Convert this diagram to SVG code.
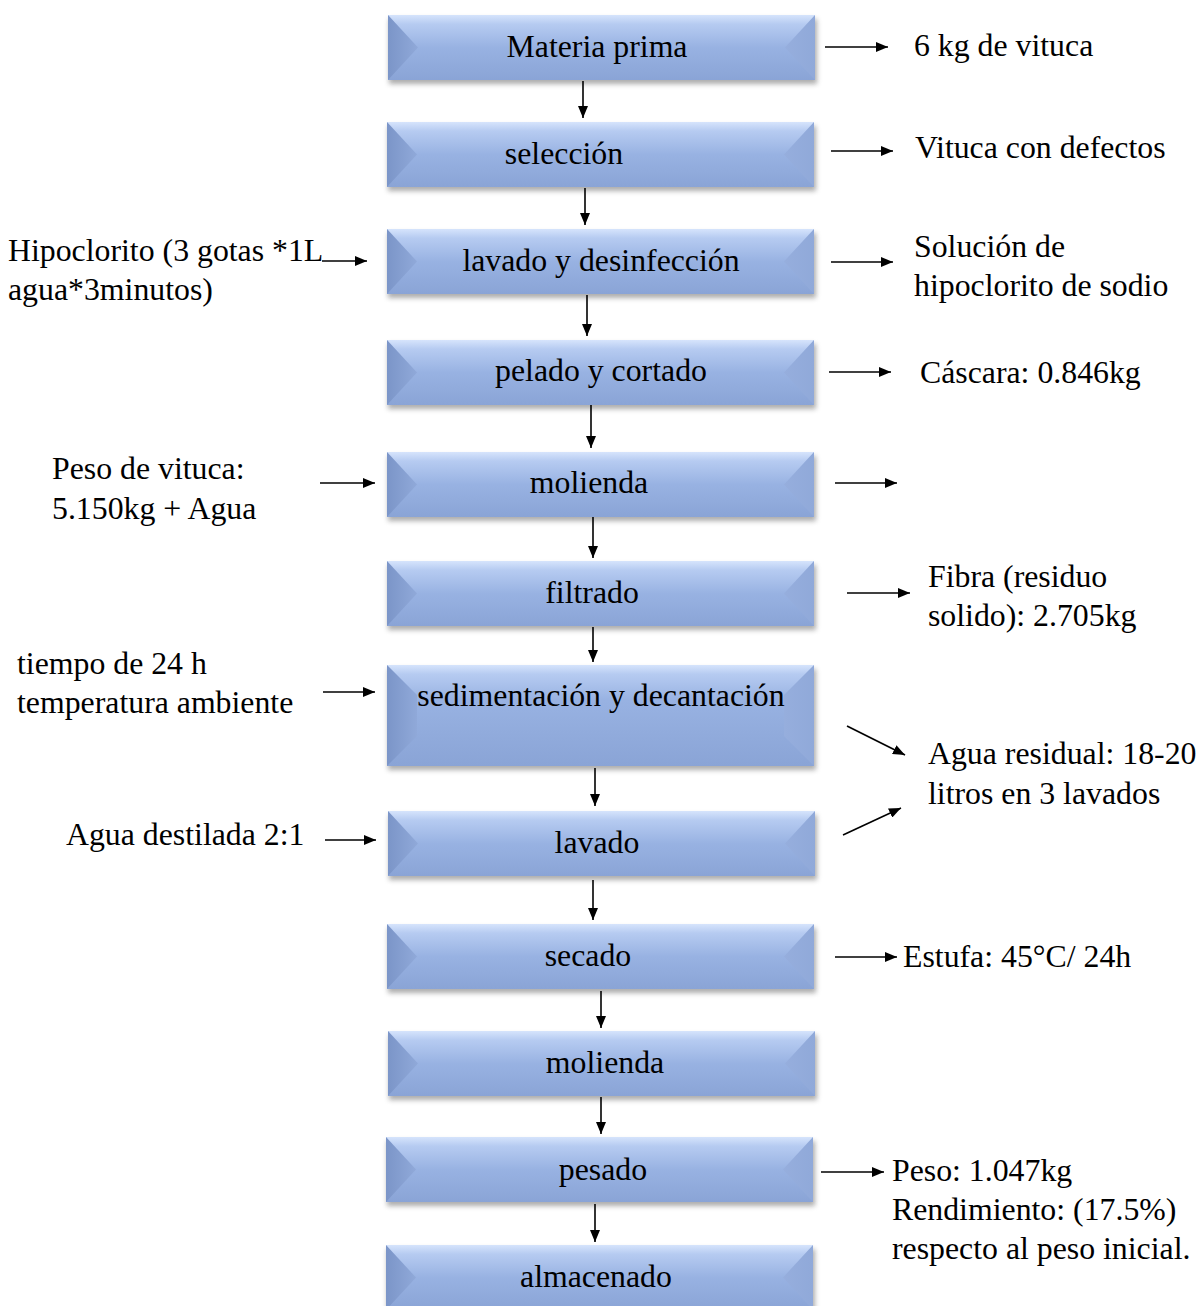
<svg xmlns="http://www.w3.org/2000/svg" xmlns:xlink="http://www.w3.org/1999/xlink" width="1201" height="1306" viewBox="0 0 1201 1306">
<style>
text{font-family:"Liberation Serif","Times New Roman",serif;font-size:31.8px;fill:#000}
.c{text-anchor:middle}
.ln{stroke:#000;stroke-width:1.6;fill:none}
</style>
<defs>
<linearGradient id="face" x1="0" y1="0" x2="0" y2="1">
<stop offset="0" stop-color="#d6e4fc"/><stop offset="0.14" stop-color="#b6cbf1"/><stop offset="0.5" stop-color="#98b2e2"/><stop offset="1" stop-color="#8aa4d6"/>
</linearGradient>
<linearGradient id="faceT" x1="0" y1="0" x2="0" y2="1">
<stop offset="0" stop-color="#d6e4fc"/><stop offset="0.09" stop-color="#b6cbf1"/><stop offset="0.35" stop-color="#98b2e2"/><stop offset="1" stop-color="#8aa4d6"/>
</linearGradient>
<linearGradient id="leftg" x1="0" y1="0" x2="1" y2="0">
<stop offset="0" stop-color="#7b95c8"/><stop offset="1" stop-color="#90a9d9"/>
</linearGradient>
<linearGradient id="rightg" x1="0" y1="0" x2="1" y2="0">
<stop offset="0" stop-color="#96aedd"/><stop offset="1" stop-color="#90a9d9"/>
</linearGradient>
<filter id="sh" x="-5%" y="-20%" width="110%" height="150%">
<feGaussianBlur stdDeviation="2.5"/>
</filter>
<g id="box">
<rect x="1" y="4" width="428" height="65" fill="#6b6b6b" opacity="0.55" filter="url(#sh)"/>
<rect x="0" y="0" width="427" height="65" fill="url(#face)"/>
<polygon points="0,0 30,32.5 0,65" fill="url(#leftg)"/>
<polygon points="427,0 397,32.5 427,65" fill="url(#rightg)"/>
</g>
<g id="boxT">
<rect x="1" y="4" width="428" height="101" fill="#6b6b6b" opacity="0.55" filter="url(#sh)"/>
<rect x="0" y="0" width="427" height="101" fill="url(#faceT)"/>
<polygon points="0,0 30,30 30,71 0,101" fill="url(#leftg)"/>
<polygon points="427,0 397,30 397,71 427,101" fill="url(#rightg)"/>
</g>
<marker id="ah" viewBox="0 0 12 10" refX="12" refY="5" markerWidth="12" markerHeight="10" markerUnits="userSpaceOnUse" orient="auto">
<path d="M0,0 L12,5 L0,10 Z" fill="#000"/>
</marker>
</defs>
<rect width="1201" height="1306" fill="#fff"/>

<g id="n1"><use href="#box" x="388" y="15"/><text class="c" x="597" y="57">Materia prima</text></g>
<g id="n2"><use href="#box" x="387" y="122"/><text class="c" x="564" y="164">selección</text></g>
<g id="n3"><use href="#box" x="387" y="229"/><text class="c" x="601" y="271">lavado y desinfección</text></g>
<g id="n4"><use href="#box" x="387" y="340"/><text class="c" x="601" y="381">pelado y cortado</text></g>
<g id="n5"><use href="#box" x="387" y="452"/><text class="c" x="589" y="493">molienda</text></g>
<g id="n6"><use href="#box" x="387" y="561"/><text class="c" x="592" y="603">filtrado</text></g>
<g id="n7"><use href="#boxT" x="387" y="665"/><text class="c" x="601" y="706">sedimentación y decantación</text></g>
<g id="n8"><use href="#box" x="388" y="811"/><text class="c" x="597" y="853">lavado</text></g>
<g id="n9"><use href="#box" x="387" y="924"/><text class="c" x="588" y="966">secado</text></g>
<g id="n10"><use href="#box" x="388" y="1031"/><text class="c" x="605" y="1073">molienda</text></g>
<g id="n11"><use href="#box" x="386" y="1137"/><text class="c" x="603" y="1180">pesado</text></g>
<g id="n12"><use href="#box" x="386" y="1245"/><text class="c" x="596" y="1287">almacenado</text></g>

<g id="labels">
<text x="914" y="56">6 kg de vituca</text>
<text x="915" y="158">Vituca con defectos</text>
<text x="914" y="257">Solución de</text>
<text x="914" y="296">hipoclorito de sodio</text>
<text x="920" y="383">Cáscara: 0.846kg</text>
<text x="928" y="587">Fibra (residuo</text>
<text x="928" y="626">solido): 2.705kg</text>
<text x="928" y="764">Agua residual: 18-20</text>
<text x="928" y="804">litros en 3 lavados</text>
<text x="903" y="967">Estufa: 45°C/ 24h</text>
<text x="892" y="1181">Peso: 1.047kg</text>
<text x="892" y="1220">Rendimiento: (17.5%)</text>
<text x="892" y="1259">respecto al peso inicial.</text>
<text x="8" y="261">Hipoclorito (3 gotas *1L</text>
<text x="8" y="300">agua*3minutos)</text>
<text x="52" y="479">Peso de vituca:</text>
<text x="52" y="519">5.150kg + Agua</text>
<text x="17" y="674">tiempo de 24 h</text>
<text x="17" y="713">temperatura ambiente</text>
<text x="66" y="845">Agua destilada 2:1</text>
</g>

<g id="connectors" class="ln" marker-end="url(#ah)">
<line x1="583" y1="81" x2="583" y2="118"/>
<line x1="585" y1="188" x2="585" y2="225"/>
<line x1="587" y1="295" x2="587" y2="336"/>
<line x1="591" y1="405" x2="591" y2="448"/>
<line x1="593" y1="517" x2="593" y2="558"/>
<line x1="593" y1="627" x2="593" y2="662"/>
<line x1="595" y1="768" x2="595" y2="806"/>
<line x1="593" y1="880" x2="593" y2="920"/>
<line x1="601" y1="991" x2="601" y2="1028"/>
<line x1="601" y1="1097" x2="601" y2="1134"/>
<line x1="595" y1="1204" x2="595" y2="1242"/>
<line x1="825" y1="47" x2="888" y2="47"/>
<line x1="831" y1="151" x2="893" y2="151"/>
<line x1="831" y1="262" x2="893" y2="262"/>
<line x1="829" y1="372" x2="891" y2="372"/>
<line x1="835" y1="483" x2="897" y2="483"/>
<line x1="847" y1="593" x2="910" y2="593"/>
<line x1="847" y1="726" x2="905" y2="755"/>
<line x1="843" y1="835" x2="901" y2="808"/>
<line x1="835" y1="957" x2="897" y2="957"/>
<line x1="821" y1="1172" x2="884" y2="1172"/>
<line x1="322" y1="261" x2="367" y2="261"/>
<line x1="320" y1="483" x2="375" y2="483"/>
<line x1="323" y1="692" x2="375" y2="692"/>
<line x1="325" y1="840" x2="376" y2="840"/>
</g>
</svg>
